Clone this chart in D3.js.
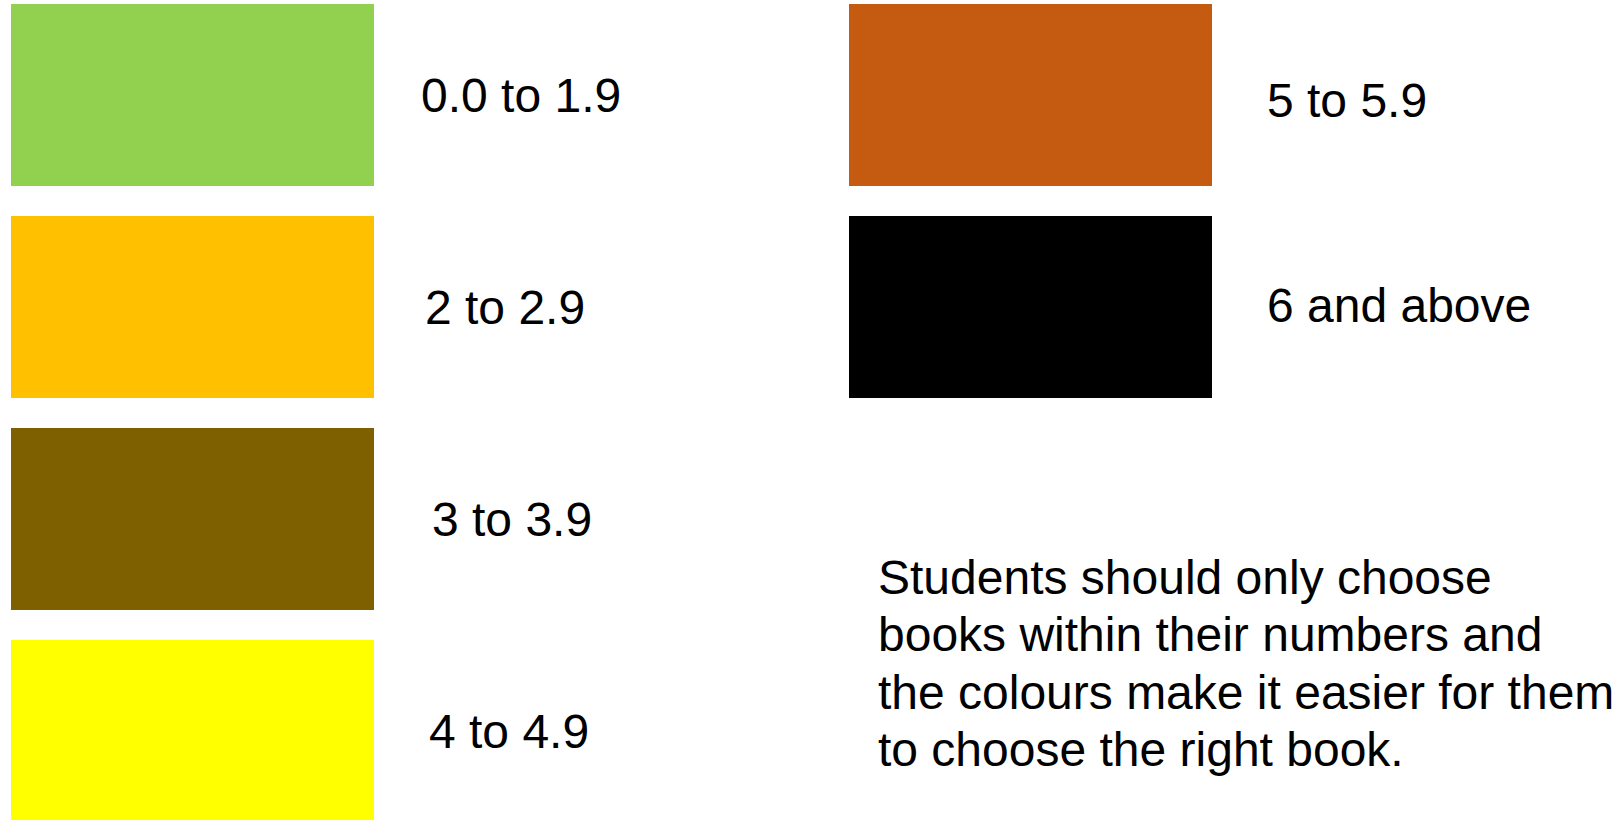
<!DOCTYPE html>
<html>
<head>
<meta charset="utf-8">
<script src="https://cdn.jsdelivr.net/npm/d3@7"></script>
<style>
  html, body { margin: 0; padding: 0; background: #ffffff; }
  svg { display: block; }
  text { font-family: "Liberation Sans", Arial, sans-serif; fill: #000000; }
</style>
</head>
<body>
<svg id="chart" width="1619" height="820"></svg>
<script>
// ---- data ----
const categories = ["0.0 to 1.9", "2 to 2.9", "3 to 3.9", "4 to 4.9", "5 to 5.9", "6 and above"];
const colours = ["#92D050", "#FFC000", "#7F6000", "#FFFF00", "#C55A11", "#000000"];
const columnOf = [0, 0, 0, 0, 1, 1];
const rowOf = [0, 1, 2, 3, 0, 1];
const noteLines = [
  "Students should only choose",
  "books within their numbers and",
  "the colours make it easier for them",
  "to choose the right book."
];

// ---- layout (kept separate from the data) ----
const svg = d3.select("#chart");

const xCol = d3.scaleLinear().domain([0, 1]).range([11, 849]);
const yRow = d3.scaleLinear().domain([0, 3]).range([4, 640]);
const swatchW = 363, swatchH = 182;
const labelDx = [410, 414, 421, 418, 418, 418];
const labelDy = [108, 108, 108, 108, 113, 106];

const items = categories.map((c, i) => ({ i, label: c, colour: colours[i], col: columnOf[i], row: rowOf[i] }));

svg.selectAll("rect.swatch")
  .data(items)
  .join("rect")
  .attr("class", "swatch")
  .attr("x", d => xCol(d.col))
  .attr("y", d => yRow(d.row))
  .attr("width", swatchW)
  .attr("height", swatchH)
  .attr("fill", d => d.colour);

svg.selectAll("text.label")
  .data(items)
  .join("text")
  .attr("class", "label")
  .attr("x", d => xCol(d.col) + labelDx[d.i])
  .attr("y", d => yRow(d.row) + labelDy[d.i])
  .attr("font-size", 48)
  .text(d => d.label);

const yLine = d3.scaleLinear().domain([0, noteLines.length - 1]).range([594, 766]);
svg.selectAll("text.note")
  .data(noteLines)
  .join("text")
  .attr("class", "note")
  .attr("x", 878)
  .attr("y", (d, i) => yLine(i))
  .attr("font-size", 48)
  .text(d => d);
</script>
</body>
</html>
